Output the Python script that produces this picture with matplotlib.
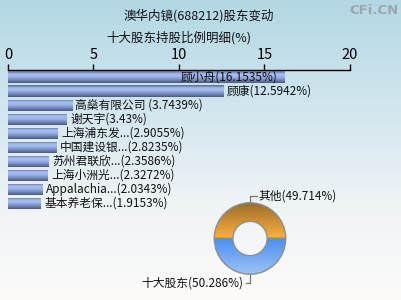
import matplotlib
matplotlib.use("Agg")
import matplotlib.pyplot as plt
import numpy as np
from matplotlib.colors import LinearSegmentedColormap
from matplotlib.patches import Wedge

plt.rcParams['font.family'] = ['Noto Sans CJK SC', 'DejaVu Sans']

title = '澳华内镜(688212)股东变动'
subtitle = '十大股东持股比例明细(%)'
holders = ['顾小舟', '顾康', '高燊有限公司 ', '谢天宇', '上海浦东发...', '中国建设银...',
           '苏州君联欣...', '上海小洲光...', 'Appalachia...', '基本养老保...']
ratios = [16.1535, 12.5942, 3.7439, 3.43, 2.9055, 2.8235, 2.3586, 2.3272, 2.0343, 1.9153]
ratio_text = ['16.1535', '12.5942', '3.7439', '3.43', '2.9055', '2.8235',
              '2.3586', '2.3272', '2.0343', '1.9153']
xticks = [0, 5, 10, 15, 20]
pie_names = ['其他', '十大股东']
pie_values = [49.714, 50.286]
pie_text = ['49.714', '50.286']

W, H = 402, 300
fig = plt.figure(figsize=(W / 100, H / 100), dpi=100)

# background gradient
bg = fig.add_axes([0, 0, 1, 1], zorder=-10)
bg_cmap = LinearSegmentedColormap.from_list('bg', ['#b2d8e5', '#cfe5ed', '#eef3f5', '#fdfbfa'])
bg.imshow(np.linspace(0, 1, 256).reshape(-1, 1), aspect='auto', cmap=bg_cmap,
          extent=[0, 1, 0, 1], origin='upper')
bg.axis('off')

fig.text(199 / W, 1 - 16 / H, title, ha='center', va='center', fontsize=9, color='#111111')
fig.text(179 / W, 1 - 38 / H, subtitle, ha='center', va='center', fontsize=9, color='#111111')
fig.text(399 / W, 1 - 11 / H, 'CFi.CN', ha='right', va='center', fontsize=9.5,
         color='#9ea8ac', fontweight='bold', family='DejaVu Sans')

# bar chart
ax = fig.add_axes([8 / W, 1 - 210.5 / H, 342 / W, 140.5 / H])
ax.patch.set_alpha(0)
y = np.arange(len(ratios))
bars = ax.barh(y, ratios, height=0.8, color='#8aa2d8', zorder=2)
bar_cmap = LinearSegmentedColormap.from_list('bar', ['#56668e', '#a9c1f4', '#9ab2e8',
                                                     '#7488bb', '#4c5979'])
grad = np.linspace(0, 1, 64).reshape(-1, 1)
for b in bars:
    x0, y0 = b.get_x(), b.get_y()
    im = ax.imshow(grad, aspect='auto', cmap=bar_cmap, origin='upper',
                   extent=[x0, x0 + b.get_width(), y0 + b.get_height(), y0], zorder=3)
    im.set_clip_path(b)
ax.set_xlim(0, 20)
ax.set_ylim(len(ratios) - 0.5, -0.5)

for i, (name, v, t) in enumerate(zip(holders, ratios, ratio_text)):
    label = f'{name}({t}%)'
    if i == 0:
        ax.text(v - 0.4, i, label, ha='right', va='center', fontsize=8.5, color='#111111', zorder=5)
    else:
        ax.text(v + 0.2, i, label, ha='left', va='center', fontsize=8.5, color='#111111', zorder=5)

ax.xaxis.tick_top()
ax.set_xticks(xticks)
ax.tick_params(axis='x', length=4, width=1, labelsize=10.5, pad=2, direction='out')
ax.set_yticks([])
for s in ['bottom', 'left', 'right']:
    ax.spines[s].set_visible(False)
ax.spines['top'].set_linewidth(1)

# donut
pax = fig.add_axes([200 / W, 1 - 288.5 / H, 100 / W, 100 / H])
pax.set_aspect('equal')
pax.axis('off')
pie_colors = [['#fbb040', '#9c6a2a'], ['#9cc2f6', '#4a8ef0']]
angles = np.cumsum([0] + pie_values) / sum(pie_values) * 360
start = 0.5
for k in range(2):
    a0, a1 = start + angles[k], start + angles[k + 1]
    w = Wedge((0, 0), 1, a0, a1, width=0.52, facecolor='none', edgecolor='none')
    pax.add_patch(w)
    cm = LinearSegmentedColormap.from_list('p%d' % k, pie_colors[k])
    g = np.linspace(0, 1, 64).reshape(-1, 1)
    im = pax.imshow(g, aspect='auto', cmap=cm, origin='lower',
                    extent=[-1, 1, 0, 1] if k == 0 else [-1, 1, -1, 0], zorder=2)
    im.set_clip_path(w)
    pax.add_patch(Wedge((0, 0), 1, a0, a1, width=0.52, facecolor='none',
                        edgecolor='#8f8f8f', linewidth=1, zorder=3))
pax.set_xlim(-1.4, 1.4)
pax.set_ylim(-1.4, 1.4)

pax.plot([0, 0, 0.2], [1.0, 1.2, 1.2], color='#777777', lw=0.9, clip_on=False)
pax.text(0.24, 1.2, f'{pie_names[0]}({pie_text[0]}%)', ha='left', va='center',
         fontsize=8.5, color='#111111', clip_on=False)
pax.plot([0, 0, -0.12], [-1.0, -1.25, -1.25], color='#777777', lw=0.9, clip_on=False)
pax.text(-0.18, -1.25, f'{pie_names[1]}({pie_text[1]}%)', ha='right', va='center',
         fontsize=8.5, color='#111111', clip_on=False)

fig.savefig('out.png', dpi=100)
